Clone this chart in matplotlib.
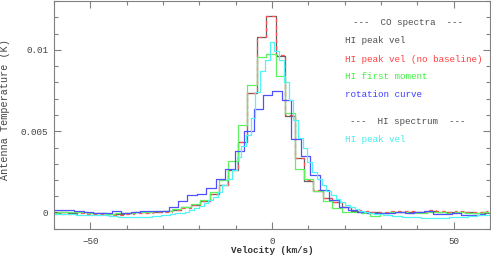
import numpy as np
import matplotlib
matplotlib.use('Agg')
import matplotlib.pyplot as plt
from matplotlib.ticker import MultipleLocator, FixedLocator, FixedFormatter

# ---- channel grids (km/s) ----
co_v0 = -0.3      # CO channel centre offset
rot_v0 = -1.18    # rotation-curve stacked grid offset
co_dv = 2.6       # CO channel width
hi_dv = 1.3       # HI channel width
co_k = np.arange(-23, 24)
hi_j = np.arange(-46, 47)

# ---- CO spectra (K) ----
co_hi_peak = [0.00003, 0.00002, 0.0, 0.00002, -0.00002, -0.00004, -0.00008, -0.00008,
              -0.00004, 0.00004, 0.00005, 0.00006, 0.00009, 0.00017, 0.00033, 0.00049,
              0.00074, 0.00115, 0.0017, 0.00262, 0.00437, 0.00735, 0.01076,
              0.01205,
              0.00965, 0.00595, 0.00333, 0.00196, 0.00135, 0.0009, 0.00063, 0.00033,
              0.00012, 0.00004, 0.00002, 0.0, 0.00004, 0.00006, 0.00004, 0.00002,
              0.0001, 0.00006, 0.00002, 0.00003, 0.00002, 0.0, 0.00003]
co_hi_peak_nobase = [-0.00006, -0.00008, -0.00006, -0.00004, -0.00008, -0.0001, -0.00014, -0.00014,
                     -0.0001, -0.00002, 0.0, 0.00002, 0.00005, 0.00014, 0.0003, 0.00046,
                     0.00072, 0.00113, 0.00168, 0.0026, 0.00436, 0.00735, 0.01076,
                     0.01207,
                     0.00967, 0.00597, 0.00335, 0.00198, 0.00138, 0.00093, 0.00066, 0.00036,
                     0.00016, 0.00008, 0.00007, 0.00005, 0.00008, 0.0001, 0.00008, 0.00007,
                     0.00014, 0.0001, 0.00006, 0.00008, 0.00007, 0.00006, 0.00008]
co_hi_mom1 = [0.0, 0.00003, 0.00004, 0.00002, 0.0, -0.00002, -0.00005, -0.00004,
              0.0, 0.00004, 0.00004, 0.00008, 0.00012, 0.0002, 0.00035, 0.00052,
              0.0008, 0.0013, 0.002, 0.0032, 0.0054, 0.00785, 0.00957,
              0.00973,
              0.0084, 0.00615, 0.0027, 0.0021, 0.00135, 0.00074, 0.0003, 0.00003,
              0.00002, -0.00002, -0.00023, 0.0, 0.00003, 0.00005, 0.0, -0.00003,
              0.00006, 0.00002, 0.0, 0.00004, 0.0, -0.00003, 0.00002]
co_rotcurve = [0.00015, 0.00018, 0.00018, 0.0001, 0.00003, 0.0, 0.0, 0.00008,
               -0.00003, 0.00003, 0.00008, 0.00012, 0.00012, 0.00035, 0.0007, 0.0011,
               0.00115, 0.00152, 0.00207, 0.00268, 0.00376, 0.00503, 0.00636,
               0.00724,
               0.00748, 0.00691, 0.0045, 0.00348, 0.00232, 0.0014, 0.00076, 0.00033,
               0.00015, 0.00003, 0.0, -0.00002, 0.0, 0.00003, 0.0, 0.00002,
               0.00008, -0.0001, -0.00005, -0.00003, -0.00012, -0.00015, -0.0001]

# ---- HI spectrum (scaled) ----
hi_peak = [-0.00006, -0.00007, -0.00008, -0.00009, -0.0001, -0.00011, -0.00012, -0.00013, -0.00013, -0.00014,
           -0.00015, -0.00017, -0.0002, -0.00023, -0.00026, -0.00028, -0.00029, -0.00029, -0.00028, -0.00027,
           -0.00025, -0.00022, -0.00019, -0.00016, -0.00012, -0.00008, -0.00004, 0.00001, 0.00007, 0.00015,
           0.00026, 0.00042, 0.00058, 0.00076, 0.00098, 0.0013, 0.00168, 0.0021, 0.00262, 0.0034,
           0.0041, 0.0048, 0.0058, 0.0074, 0.0087, 0.0094,
           0.0105,
           0.0099, 0.0094, 0.0080, 0.0069, 0.0057, 0.0046, 0.0040, 0.0031, 0.0025, 0.00205,
           0.0017, 0.00135, 0.00108, 0.00085, 0.00066, 0.00048, 0.00034, 0.00022, 0.00012, 0.00004,
           -0.00002, -0.00007, -0.0001, -0.00013, -0.00016, -0.00019, -0.00022, -0.00024, -0.00026, -0.00028,
           -0.00029, -0.0003, -0.0003, -0.0003, -0.0003, -0.0003, -0.0003, -0.00029, -0.00028, -0.00026,
           -0.00024, -0.00021, -0.00018, -0.00015, -0.00013, -0.00011]

x_ticks = [-50, 0, 50]
x_ticklabels = ['\u221250', '0', '50']
y_ticks = [0, 0.005, 0.01]
y_ticklabels = ['0', '0.005', '0.01']

co_vel = co_v0 + co_dv * co_k
rot_vel = rot_v0 + co_dv * co_k
hi_vel = hi_dv * hi_j

W, H = 491, 256
fig = plt.figure(figsize=(W / 100, H / 100), dpi=100)
ax = fig.add_axes([54 / W, 27 / H, 436 / W, 228 / H])

mono = 'Liberation Mono'
fs = 6.7
frame = '#808080'
txtc = '#444444'

lw = 0.9
ax.step(co_vel, co_hi_peak, where='mid', color='#606060', lw=lw)
ax.step(co_vel, co_hi_peak_nobase, where='mid', color='#ff5050', lw=lw, dashes=(3, 2.5))
ax.step(co_vel, co_hi_mom1, where='mid', color='#60f060', lw=lw)
ax.step(rot_vel, co_rotcurve, where='mid', color='#5050ff', lw=lw)
ax.step(hi_vel, hi_peak, where='mid', color='#50f5f5', lw=lw)

ax.set_xlim(-60, 60)
ax.set_ylim(-0.001, 0.013)

ax.xaxis.set_major_locator(FixedLocator(x_ticks))
ax.xaxis.set_major_formatter(FixedFormatter(x_ticklabels))
ax.xaxis.set_minor_locator(MultipleLocator(10))
ax.yaxis.set_major_locator(FixedLocator(y_ticks))
ax.yaxis.set_major_formatter(FixedFormatter(y_ticklabels))
ax.yaxis.set_minor_locator(MultipleLocator(0.001))

ax.tick_params(which='both', direction='in', top=True, right=True, color=frame, width=0.8,
               labelcolor=txtc, labelsize=fs)
ax.tick_params(which='major', length=5)
ax.tick_params(which='minor', length=3)
ax.tick_params(axis='x', pad=6)
ax.tick_params(axis='y', pad=4)
for lab in ax.get_xticklabels() + ax.get_yticklabels():
    lab.set_family(mono)
for s in ax.spines.values():
    s.set_color(frame)
    s.set_linewidth(0.8)

fig.text(272 / W, 1 - 250.5 / H, 'Velocity (km/s)', ha='center', va='center',
         family=mono, fontsize=fs, color='#333333', fontweight='bold')
fig.text(5.5 / W, 1 - 110 / H, 'Antenna Temperature (K)', ha='center', va='center',
         rotation=90, family=mono, fontsize=fs + 0.6, color=txtc)

legend_items = [
    ('---  CO spectra  ---', '#505050', 22.3, 'c'),
    ('HI peak vel', '#505050', 40.7, 'l'),
    ('HI peak vel (no baseline)', '#ff4040', 59.0, 'l'),
    ('HI first moment', '#40f040', 76.7, 'l'),
    ('rotation curve', '#4040ff', 94.7, 'l'),
    ('---  HI spectrum  ---', '#505050', 121.7, 'c'),
    ('HI peak vel', '#40f0f0', 140.0, 'l'),
]
for text, col, ypx, al in legend_items:
    if al == 'c':
        fig.text(408 / W, 1 - ypx / H, text, ha='center', va='center', family=mono,
                 fontsize=fs, color=col)
    else:
        fig.text(345 / W, 1 - ypx / H, text, ha='left', va='center', family=mono,
                 fontsize=fs, color=col)

fig.savefig('out.png', dpi=100)
